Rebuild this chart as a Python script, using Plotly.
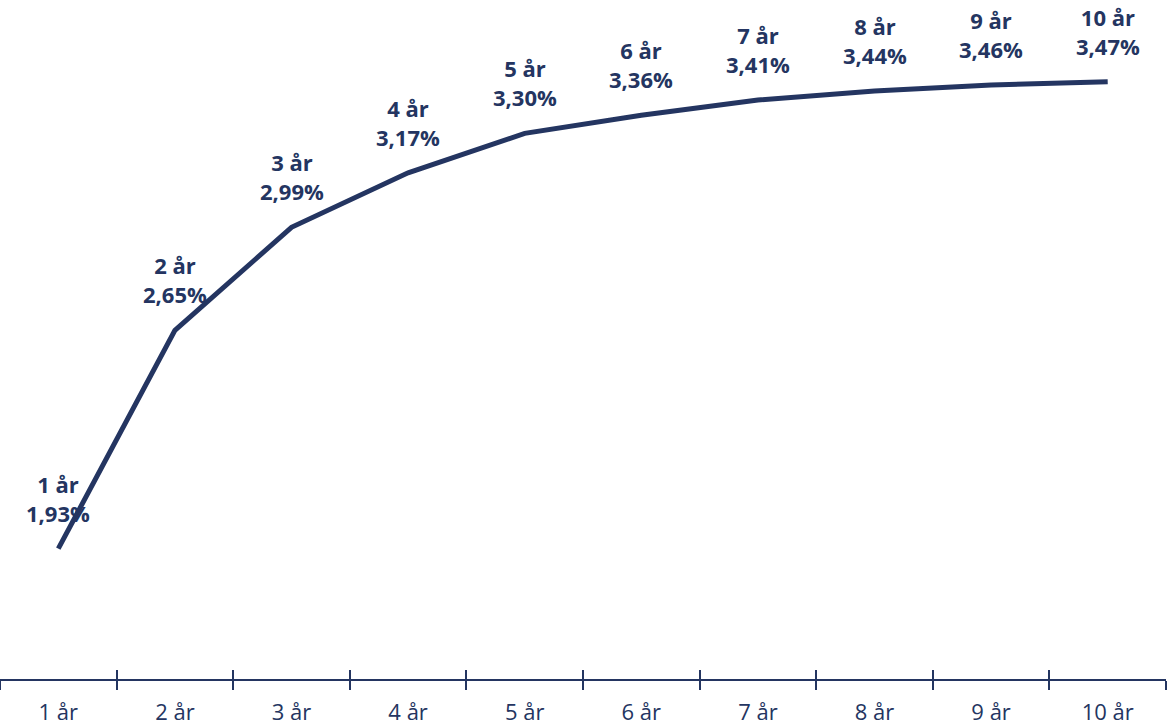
import plotly.graph_objects as go

# Yield curve by maturity
years = ["1 år", "2 år", "3 år", "4 år", "5 år", "6 år", "7 år", "8 år", "9 år", "10 år"]
rates = [1.93, 2.65, 2.99, 3.17, 3.30, 3.36, 3.41, 3.44, 3.46, 3.47]
rate_labels = ["1,93%", "2,65%", "2,99%", "3,17%", "3,30%", "3,36%", "3,41%", "3,44%", "3,46%", "3,47%"]

NAVY = "#243561"
FONT = "Open Sans"

fig = go.Figure()

fig.add_trace(go.Scatter(
    x=years, y=rates, mode="lines",
    line=dict(color=NAVY, width=5),
    hoverinfo="skip", xaxis="x", yaxis="y",
))

# Invisible copy on an overlaid axis so ticks can cross the axis line
fig.add_trace(go.Scatter(
    x=years, y=rates, mode="lines", opacity=0,
    hoverinfo="skip", xaxis="x2", yaxis="y", showlegend=False,
))

for yr, r, lab in zip(years, rates, rate_labels):
    fig.add_annotation(
        x=yr, y=r, xref="x", yref="y",
        text=f"<b>{yr}<br>{lab}</b>",
        showarrow=False, yanchor="bottom", yshift=19,
        font=dict(family=FONT, size=22, color=NAVY),
        align="center",
    )

axis_common = dict(
    type="category", range=[-0.5, 9.5], tickson="boundaries",
    ticklen=9, tickwidth=1.5, tickcolor=NAVY,
    showgrid=False, zeroline=False,
)

fig.update_layout(
    width=1173, height=727,
    margin=dict(l=0, r=7, t=0, b=48),
    paper_bgcolor="white", plot_bgcolor="white",
    showlegend=False,
    xaxis=dict(
        **axis_common, ticks="outside", ticklabelstandoff=13,
        showline=True, linecolor=NAVY, linewidth=2,
        tickfont=dict(family=FONT, size=22, color=NAVY),
    ),
    xaxis2=dict(
        **axis_common, ticks="inside", overlaying="x", anchor="y",
        side="bottom", showticklabels=False, showline=False,
    ),
    yaxis=dict(range=[1.5, 3.74], visible=False),
)

fig.write_html("out.html")
